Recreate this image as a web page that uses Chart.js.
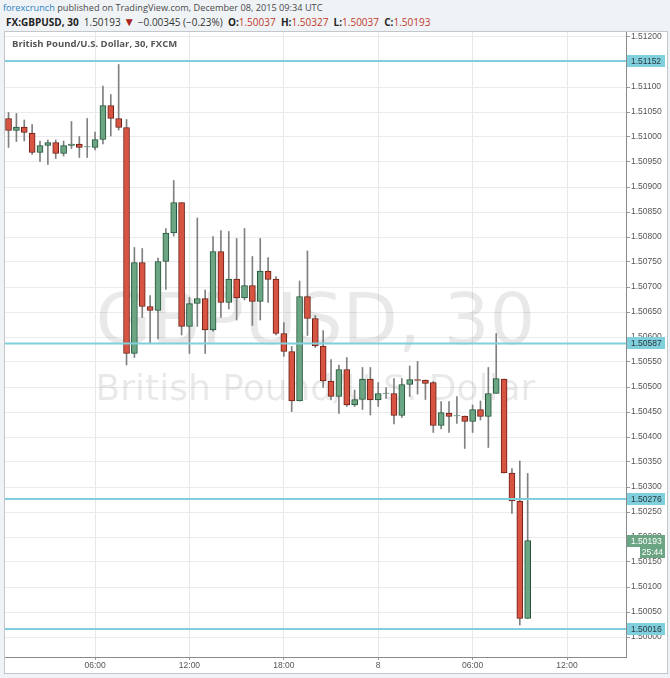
<!DOCTYPE html>
<html>
<head>
<meta charset="utf-8">
<script src="https://cdn.jsdelivr.net/npm/chart.js@4.4.0/dist/chart.umd.min.js"></script>
<style>
  html, body { margin: 0; padding: 0; width: 670px; height: 678px; overflow: hidden; background: #f0f3f6; }
  #hdr1 { position: absolute; left: 3px; top: 1px; font: 9.2px "Open Sans", sans-serif; color: #4a4a4a; white-space: nowrap; }
  #hdr1 .brand { color: #2a82c4; }
  #hdr2 { position: absolute; left: 6px; top: 15px; font: 10px "Open Sans", sans-serif; color: #333; white-space: nowrap; }
  #hdr2 b { color: #222; }
  #hdr2 .red { color: #c0392b; }
  #hdr2 .tri { color: #a8241c; font-size: 12px; line-height: 10px; }
  #frame { position: absolute; left: 4px; top: 31px; width: 662px; height: 641px; background: #fff; border: 1px solid #c3c6ca; }
  #chartBox { position: absolute; left: 0; top: 0; width: 670px; height: 678px; }
  #legend { position: absolute; left: 12px; top: 37px; font: bold 9.5px "Open Sans", sans-serif; color: #555; white-space: nowrap; }
</style>
</head>
<body>
<div id="hdr1"><span class="brand">forexcrunch</span> published on TradingView.com, December 08, 2015 09:34 UTC</div>
<div id="hdr2"><b>FX:GBPUSD, 30</b>&nbsp; 1.50193 <span class="tri">&#9660;</span> &minus;0.00345 (&minus;0.23%) &nbsp;<b>O:</b><span class="red">1.50037</span> &nbsp;<b>H:</b><span class="red">1.50327</span> &nbsp;<b>L:</b><span class="red">1.50037</span> &nbsp;<b>C:</b><span class="red">1.50193</span></div>
<div id="frame"></div>
<div id="chartBox"><canvas id="gbpusdChart" width="670" height="678"></canvas></div>
<div id="legend">British Pound/U.S. Dollar, 30, FXCM</div>
<script>
// 30 minute candles, GBPUSD, Dec 7 - Dec 8 2015
const times = [
  '07 00:30', '07 01:00', '07 01:30', '07 02:00', '07 02:30', '07 03:00', '07 03:30', '07 04:00',
  '07 04:30', '07 05:00', '07 05:30', '07 06:00', '07 06:30', '07 07:00', '07 07:30', '07 08:00',
  '07 08:30', '07 09:00', '07 09:30', '07 10:00', '07 10:30', '07 11:00', '07 11:30', '07 12:00',
  '07 12:30', '07 13:00', '07 13:30', '07 14:00', '07 14:30', '07 15:00', '07 15:30', '07 16:00',
  '07 16:30', '07 17:00', '07 17:30', '07 18:00', '07 18:30', '07 19:00', '07 19:30', '07 20:00',
  '07 20:30', '07 21:00', '07 21:30', '07 22:00', '07 22:30', '07 23:00', '07 23:30', '08 00:00',
  '08 00:30', '08 01:00', '08 01:30', '08 02:00', '08 02:30', '08 03:00', '08 03:30', '08 04:00',
  '08 04:30', '08 05:00', '08 05:30', '08 06:00', '08 06:30', '08 07:00', '08 07:30', '08 08:00',
  '08 08:30', '08 09:00', '08 09:30'
];
const openP = [
  1.51037, 1.51013, 1.51020, 1.51008, 1.50969, 1.50983, 1.50989, 1.50967,
  1.50983, 1.50986, 1.50980, 1.50979, 1.50995, 1.51063, 1.51037, 1.51019,
  1.50567, 1.50749, 1.50661, 1.50653, 1.50751, 1.50808, 1.50869, 1.50621,
  1.50667, 1.50677, 1.50614, 1.50771, 1.50669, 1.50716, 1.50678, 1.50703,
  1.50671, 1.50732, 1.50716, 1.50607, 1.50571, 1.50472, 1.50681, 1.50637,
  1.50582, 1.50512, 1.50481, 1.50535, 1.50464, 1.50475, 1.50516, 1.50474,
  1.50487, 1.50487, 1.50443, 1.50505, 1.50515, 1.50514, 1.50509, 1.50423,
  1.50448, 1.50442, 1.50442, 1.50431, 1.50455, 1.50441, 1.50487, 1.50516,
  1.50328, 1.50272, 1.50037
];
const highP = [
  1.51049, 1.51047, 1.51034, 1.51025, 1.50992, 1.50994, 1.50994, 1.50992,
  1.51031, 1.51001, 1.51037, 1.51010, 1.51102, 1.51085, 1.51145, 1.51035,
  1.50779, 1.50777, 1.50683, 1.50758, 1.50817, 1.50913, 1.50869, 1.50679,
  1.50838, 1.50694, 1.50801, 1.50813, 1.50811, 1.50797, 1.50817, 1.50761,
  1.50797, 1.50759, 1.50721, 1.50629, 1.50581, 1.50712, 1.50772, 1.50643,
  1.50613, 1.50555, 1.50544, 1.50559, 1.50494, 1.50539, 1.50539, 1.50509,
  1.50499, 1.50517, 1.50517, 1.50542, 1.50551, 1.50514, 1.50511, 1.50471,
  1.50471, 1.50481, 1.50442, 1.50464, 1.50472, 1.50539, 1.50607, 1.50516,
  1.50337, 1.50352, 1.50327
];
const lowP = [
  1.50979, 1.50991, 1.50992, 1.50965, 1.50951, 1.50945, 1.50957, 1.50962,
  1.50977, 1.50959, 1.50959, 1.50974, 1.50986, 1.51002, 1.51014, 1.50544,
  1.50559, 1.50639, 1.50587, 1.50596, 1.50695, 1.50802, 1.50604, 1.50567,
  1.50621, 1.50567, 1.50611, 1.50639, 1.50656, 1.50634, 1.50674, 1.50623,
  1.50634, 1.50669, 1.50604, 1.50561, 1.50451, 1.50472, 1.50603, 1.50579,
  1.50499, 1.50474, 1.50447, 1.50461, 1.50461, 1.50455, 1.50444, 1.50461,
  1.50477, 1.50426, 1.50439, 1.50481, 1.50486, 1.50475, 1.50409, 1.50416,
  1.50409, 1.50427, 1.50377, 1.50409, 1.50434, 1.50379, 1.50487, 1.50328,
  1.50247, 1.50024, 1.50037
];
const closeP = [
  1.51013, 1.51020, 1.51009, 1.50969, 1.50983, 1.50989, 1.50967, 1.50983,
  1.50986, 1.50979, 1.50981, 1.50995, 1.51063, 1.51037, 1.51019, 1.50567,
  1.50749, 1.50661, 1.50653, 1.50751, 1.50808, 1.50869, 1.50621, 1.50667,
  1.50677, 1.50614, 1.50771, 1.50669, 1.50716, 1.50678, 1.50703, 1.50671,
  1.50732, 1.50715, 1.50607, 1.50571, 1.50472, 1.50681, 1.50637, 1.50582,
  1.50512, 1.50481, 1.50535, 1.50464, 1.50475, 1.50516, 1.50474, 1.50487,
  1.50488, 1.50443, 1.50505, 1.50515, 1.50513, 1.50507, 1.50423, 1.50449,
  1.50441, 1.50443, 1.50431, 1.50455, 1.50441, 1.50487, 1.50517, 1.50328,
  1.50272, 1.50037, 1.50193
];

// horizontal support / resistance lines
const levels = [1.51152, 1.50587, 1.50276, 1.50016];
const lastPrice = 1.50193;
const countdown = '25:44';

const xTickTimes = ['07 06:00', '07 12:00', '07 18:00', '08 00:00', '08 06:00', '08 12:00'];
const xTickLabels = ['06:00', '12:00', '18:00', '8', '06:00', '12:00'];
const yTicks = [
  1.51200, 1.51150, 1.51100, 1.51050, 1.51000, 1.50950, 1.50900, 1.50850, 1.50800,
  1.50750, 1.50700, 1.50650, 1.50600, 1.50550, 1.50500, 1.50450, 1.50400, 1.50350,
  1.50300, 1.50250, 1.50200, 1.50150, 1.50100, 1.50050, 1.50000
];

// half-hour slot counted from Dec 7 00:00
function slot(t) {
  const day = parseInt(t.slice(0, 2), 10);
  const h = parseInt(t.slice(3, 5), 10);
  const m = parseInt(t.slice(6, 8), 10);
  return (day - 7) * 48 + h * 2 + m / 30;
}

const X_MIN = 0.55, X_MAX = 79.5;
const upFill = '#6ba583', upLine = '#225437';
const downFill = '#d75442', downLine = '#6b1f14';
const levelColor = '#7fcfdc';

const isUp = i => closeP[i] >= openP[i];

const datasets = [];
levels.forEach(v => {
  datasets.push({
    type: 'line',
    data: [{ x: X_MIN, y: v }, { x: X_MAX, y: v }],
    borderColor: levelColor,
    borderWidth: 2,
    pointRadius: 0,
    order: -1
  });
});
datasets.push({
  type: 'bar',
  label: 'body',
  data: times.map((t, i) => ({ x: slot(t), y: [openP[i], closeP[i]] })),
  backgroundColor: times.map((t, i) => isUp(i) ? upFill : downFill),
  borderColor: times.map((t, i) => isUp(i) ? upLine : downLine),
  borderWidth: 1,
  borderSkipped: false,
  barThickness: 6,
  grouped: false,
  order: 0
});
datasets.push({
  type: 'bar',
  label: 'wick',
  data: times.map((t, i) => ({ x: slot(t), y: [lowP[i], highP[i]] })),
  backgroundColor: '#808080',
  borderWidth: 0,
  barThickness: 1,
  grouped: false,
  order: 1
});

const watermark = {
  id: 'watermark',
  beforeDatasetsDraw(chart) {
    const { ctx, chartArea } = chart;
    const cx = (chartArea.left + chartArea.right) / 2;
    const cy = (chartArea.top + chartArea.bottom) / 2;
    ctx.save();
    ctx.fillStyle = 'rgba(0,0,0,0.085)';
    ctx.textAlign = 'center';
    ctx.textBaseline = 'alphabetic';
    ctx.font = '72px "DejaVu Sans"';
    ctx.fillText('GBPUSD, 30', cx, cy - 1);
    ctx.font = '36px "DejaVu Sans"';
    ctx.fillText('British Pound/U.S. Dollar', cx, cy + 55);
    ctx.restore();
  }
};

const priceLabels = {
  id: 'priceLabels',
  afterDraw(chart) {
    const { ctx, chartArea } = chart;
    const y = chart.scales.y;
    const x0 = chartArea.right + 1;
    ctx.save();
    ctx.font = '8.5px "Liberation Sans"';
    ctx.textBaseline = 'middle';
    ctx.textAlign = 'left';
    levels.forEach(v => {
      const py = Math.round(y.getPixelForValue(v));
      ctx.fillStyle = levelColor;
      ctx.fillRect(x0, py - 6, 38, 12);
      ctx.fillStyle = '#2b3a40';
      ctx.fillText(v.toFixed(5), x0 + 4, py + 0.5);
    });
    const py = Math.round(y.getPixelForValue(lastPrice));
    ctx.fillStyle = upFill;
    ctx.fillRect(x0, py - 6, 38, 12);
    ctx.fillRect(x0 + 13, py + 6, 25, 11);
    ctx.fillStyle = '#ffffff';
    ctx.fillText(lastPrice.toFixed(5), x0 + 4, py + 0.5);
    ctx.textAlign = 'right';
    ctx.fillText(countdown, x0 + 36, py + 12);
    ctx.restore();
  }
};

new Chart(document.getElementById('gbpusdChart'), {
  type: 'bar',
  data: { datasets },
  options: {
    responsive: false,
    animation: false,
    events: [],
    layout: { padding: { left: 5, top: 32, right: 3, bottom: 5 } },
    plugins: {
      legend: { display: false },
      tooltip: { enabled: false }
    },
    scales: {
      x: {
        type: 'linear',
        min: X_MIN,
        max: X_MAX,
        offset: false,
        afterBuildTicks: s => { s.ticks = xTickTimes.map(t => ({ value: slot(t) })); },
        afterFit: s => { s.height = 16; },
        grid: { color: '#e8e8e8', offset: false, tickLength: 3, tickColor: '#9a9a9a' },
        border: { color: '#8a8a8a', width: 1 },
        ticks: {
          autoSkip: false,
          maxRotation: 0,
          padding: 1,
          color: '#555',
          font: { family: '"Liberation Sans"', size: 8.5 },
          callback: (v, i) => xTickLabels[i]
        }
      },
      y: {
        type: 'linear',
        position: 'right',
        min: 1.4996,
        max: 1.5121,
        beginAtZero: false,
        afterBuildTicks: s => { s.ticks = yTicks.map(v => ({ value: v })); },
        afterFit: s => { s.width = 41; },
        grid: { color: '#ebebeb', tickLength: 4, tickColor: '#9a9a9a' },
        border: { color: '#8a8a8a', width: 1 },
        ticks: {
          padding: 1,
          color: '#555',
          font: { family: '"Liberation Sans"', size: 8.5 },
          callback: v => v.toFixed(5)
        }
      }
    }
  },
  plugins: [watermark, priceLabels]
});
</script>
</body>
</html>
